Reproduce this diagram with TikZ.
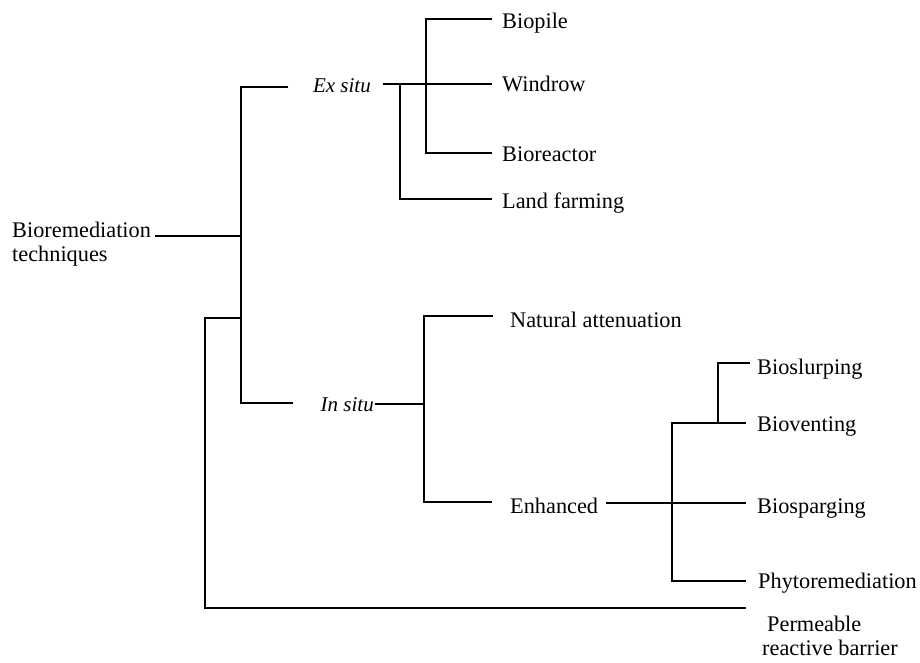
\documentclass[tikz,border=0pt]{standalone}
\usepackage{fontspec}
\setmainfont{Liberation Serif}
\begin{document}
\begin{tikzpicture}[x=1pt,y=-1pt,
  lbl/.style={anchor=base west, inner sep=0pt, font=\fontsize{22.3}{24}\selectfont},
  ilbl/.style={anchor=base east, inner sep=0pt, font=\fontsize{21}{24}\selectfont\itshape},
  link/.style={line width=1.8pt, draw=black}]
\useasboundingbox (0,0) rectangle (920,663);
% labels
\node[lbl] (root1) at (12,237) {Bioremediation};
\node[lbl] (root2) at (12,261) {techniques};
\node[ilbl] (ex) at (371,93) {Ex situ};
\node[ilbl] (in) at (374,411) {In situ};
\node[lbl] (biopile) at (502,29) {Biopile};
\node[lbl] (windrow) at (502,92) {Windrow};
\node[lbl] (bioreactor) at (502,162) {Bioreactor};
\node[lbl] (land) at (502,208) {Land farming};
\node[lbl] (natural) at (510,327) {Natural attenuation};
\node[lbl] (enh) at (510,513) {Enhanced};
\node[lbl] (slurp) at (757,374) {Bioslurping};
\node[lbl] (vent) at (757,431) {Bioventing};
\node[lbl] (sparg) at (757,513) {Biosparging};
\node[lbl] (phyto) at (758,588) {Phytoremediation};
\node[lbl] (perm1) at (767,631) {Permeable};
\node[lbl] (perm2) at (762,655) {reactive barrier};
% junction coordinates
\coordinate (rA) at (155,236);
\coordinate (tT) at (241,87);
\coordinate (tB) at (241,403);
\coordinate (tR) at (241,236);
\coordinate (tP) at (241,318);
\coordinate (exIn) at (288,87);
\coordinate (inIn) at (293,403);
\coordinate (pL1) at (205,318);
\coordinate (pL2) at (205,608);
\coordinate (pE) at (746,608);
\coordinate (exO) at (383,84);
\coordinate (exE) at (492,84);
\coordinate (lv1) at (400,84);
\coordinate (lv2) at (400,199);
\coordinate (lE) at (492,199);
\coordinate (bpE) at (492,19);
\coordinate (bv1) at (426,19);
\coordinate (bv2) at (426,153);
\coordinate (brE) at (492,153);
\coordinate (inO) at (375,404);
\coordinate (iv0) at (424,404);
\coordinate (naE) at (493,316);
\coordinate (iv1) at (424,316);
\coordinate (iv2) at (424,502);
\coordinate (enE) at (492,502);
\coordinate (enO) at (606,503);
\coordinate (spE) at (746,503);
\coordinate (ev1) at (672,423);
\coordinate (ev2) at (672,581);
\coordinate (veE) at (746,423);
\coordinate (phE) at (746,581);
\coordinate (sv1) at (718,423);
\coordinate (sv2) at (718,363);
\coordinate (slE) at (750,363);
% connectors
\draw[link] (rA) -- (tR);
\draw[link] (exIn) -- (tT) -- (tB) -- (inIn);
\draw[link] (tP) -- (pL1) -- (pL2) -- (pE);
\draw[link] (exO) -- (exE);
\draw[link] (lv1) -- (lv2) -- (lE);
\draw[link] (bpE) -- (bv1) -- (bv2) -- (brE);
\draw[link] (inO) -- (iv0);
\draw[link] (naE) -- (iv1) -- (iv2) -- (enE);
\draw[link] (enO) -- (spE);
\draw[link] (veE) -- (ev1) -- (ev2) -- (phE);
\draw[link] (sv1) -- (sv2) -- (slE);
\end{tikzpicture}
\end{document}
